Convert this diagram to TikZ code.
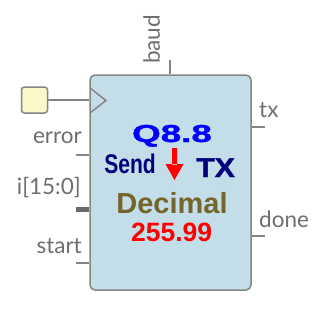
\documentclass[tikz,border=0pt]{standalone}
\usepackage{fontspec}
\setmainfont{Lato}
\newfontfamily\blockfont{Liberation Sans}
\newfontfamily\heavyfont[BoldFeatures={FakeBold=1.3}]{Liberation Sans}
\usetikzlibrary{positioning}

\definecolor{pingray}{HTML}{858585}
\definecolor{labelgray}{HTML}{6E6E6E}
\definecolor{blockblue}{HTML}{C3DEE9}
\definecolor{clkyellow}{HTML}{F9F9C9}
\definecolor{decolive}{HTML}{75652D}
\definecolor{txnavy}{HTML}{00007A}

\begin{document}
\begin{tikzpicture}[x=1pt,y=-1pt,
        block/.style={draw=pingray,line width=1.5pt,fill=blockblue,
            rounded corners=5pt,minimum width=161pt,minimum height=215pt,
            inner sep=0pt},
        pin/.style={draw=pingray,line width=1.5pt},
        bus/.style={draw=pingray!80!black,line width=5pt},
        lbl/.style={text=labelgray,inner sep=0pt,
            font=\fontsize{22.5}{22.5}\selectfont},
        title/.style={inner sep=0pt,font=\blockfont\bfseries},
        heavy/.style={inner sep=0pt,font=\heavyfont\bfseries}]
\useasboundingbox (0,0) rectangle (333,319);

\node[block] (ctl) at (170.5,182.5) {};

% clock input
\node[draw=pingray,line width=1.5pt,fill=clkyellow,rounded corners=3pt,
    minimum size=26pt,inner sep=0pt] (clk) at (34.5,100) {};
\draw[pin] (clk) -- (clk -| ctl.west);
\draw[pin] (90,88) -- (106,100.5) -- (90,113);

% pin stubs
\coordinate (baud) at (170,60);
\coordinate (err) at (76,155);
\coordinate (ibus) at (76,209);
\coordinate (start) at (76,263);
\coordinate (tx) at (265,127);
\coordinate (done) at (265,236);
\draw[pin] (baud) -- (baud |- ctl.north);
\draw[pin] (err) -- (err -| ctl.west);
\draw[bus] (ibus) -- (ibus -| ctl.west);
\draw[pin] (start) -- (start -| ctl.west);
\draw[pin] (tx) -- (tx -| ctl.east);
\draw[pin] (done) -- (done -| ctl.east);

% pin names
\node[lbl,anchor=base west,rotate=90] (baudlbl) at (160,64) {baud};
\node[lbl,anchor=base east] (errlbl) at (82,143) {error};
\node[lbl,anchor=base east] (ilbl) at (81,194) {i[15:0]};
\node[lbl,anchor=base east] (startlbl) at (82,253) {start};
\node[lbl,anchor=base west] (txlbl) at (259,117) {tx};
\node[lbl,anchor=base west] (donelbl) at (259,227) {done};

% block text
\node[heavy,anchor=base,text=blue] (fmt) at (172,142)
    {\fontsize{24.5}{24.5}\selectfont\scalebox{1.5}[1]{Q8.8}};
\node[title,anchor=base east,text=txnavy] (send) at (156,173)
    {\fontsize{27}{27}\selectfont\scalebox{0.78}[1]{Send}};
\node[heavy,anchor=base west,text=txnavy] (txt) at (196,177)
    {\fontsize{27}{27}\selectfont\scalebox{1.12}[1]{TX}};
\fill[red] (172,148) rectangle (177,165)
    (165.5,164) -- (183.5,164) -- (174.5,180) -- cycle;
\node[title,anchor=base,text=decolive] (dec) at (172,213)
    {\fontsize{29}{29}\selectfont Decimal};
\node[title,anchor=base,text=red] (val) at (171.7,241.5)
    {\fontsize{26.5}{26.5}\selectfont 255.99};

\end{tikzpicture}
\end{document}
